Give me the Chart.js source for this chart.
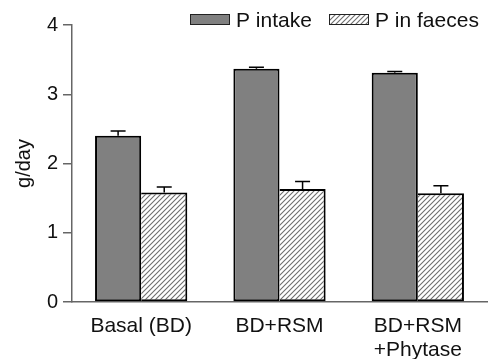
<!DOCTYPE html>
<html lang="en">
<head>
    <meta charset="UTF-8">
    <title>P intake and P in faeces</title>
    <script src="https://cdn.jsdelivr.net/npm/chart.js@4/dist/chart.umd.min.js"></script>
    <style>
        body { margin: 0; background: #fff; }
        #wrap { width: 489px; height: 359px; }
    </style>
</head>
<body>
    <div id="wrap"><canvas id="pChart"></canvas></div>
    <script>
        // diets
        const categories = ['Basal (BD)', 'BD+RSM', ['BD+RSM', '+Phytase']];
        // g/day, mean and SE
        const pIntake = [2.40, 3.37, 3.31];
        const pIntakeErr = [0.07, 0.02, 0.02];
        const pFaeces = [1.58, 1.63, 1.57];
        const pFaecesErr = [0.08, 0.11, 0.11];
        const yTicks = [0, 1, 2, 3, 4];

        const FONT = '"Liberation Sans", Arial, Helvetica, sans-serif';

        // diagonal hatch for the faeces bars
        function hatch() {
            const c = document.createElement('canvas');
            c.width = 5; c.height = 5;
            const g = c.getContext('2d');
            g.fillStyle = '#fff';
            g.fillRect(0, 0, 5, 5);
            g.strokeStyle = '#6e6e6e';
            g.lineWidth = 1.1;
            g.beginPath();
            g.moveTo(-1, 6); g.lineTo(6, -1);
            g.moveTo(-1, 1); g.lineTo(1, -1);
            g.moveTo(4, 6); g.lineTo(6, 4);
            g.stroke();
            return g.createPattern(c, 'repeat');
        }
        const hatchFill = hatch();

        const errors = [pIntakeErr, pFaecesErr];

        const errorBars = {
            id: 'errorBars',
            afterDatasetsDraw(chart) {
                const ctx = chart.ctx;
                const y = chart.scales.y;
                ctx.save();
                ctx.strokeStyle = '#000';
                ctx.lineWidth = 1.5;
                chart.data.datasets.forEach((ds, i) => {
                    chart.getDatasetMeta(i).data.forEach((bar, j) => {
                        const top = y.getPixelForValue(ds.data[j] + errors[i][j]);
                        ctx.beginPath();
                        ctx.moveTo(bar.x, bar.y);
                        ctx.lineTo(bar.x, top);
                        ctx.moveTo(bar.x - 7.5, top);
                        ctx.lineTo(bar.x + 7.5, top);
                        ctx.stroke();
                    });
                });
                ctx.restore();
            }
        };

        // legend row at the top right
        const legendRow = {
            id: 'legendRow',
            afterDraw(chart) {
                const ctx = chart.ctx;
                const items = [[190, 236], [329, 375]];
                ctx.save();
                ctx.font = '21px ' + FONT;
                ctx.textBaseline = 'middle';
                chart.data.datasets.forEach((ds, i) => {
                    const [bx, tx] = items[i];
                    ctx.fillStyle = ds.backgroundColor;
                    ctx.fillRect(bx, 14, 40, 11);
                    ctx.strokeStyle = '#222';
                    ctx.lineWidth = 1;
                    ctx.strokeRect(bx + 0.5, 14.5, 39, 10);
                    ctx.fillStyle = '#111';
                    ctx.fillText(ds.label, tx, 21);
                });
                ctx.restore();
            }
        };

        new Chart(document.getElementById('pChart'), {
            type: 'bar',
            data: {
                labels: categories,
                datasets: [{
                    label: 'P intake',
                    data: pIntake,
                    backgroundColor: '#808080',
                    borderColor: '#000',
                    borderWidth: 2,
                    borderSkipped: false
                }, {
                    label: 'P in faeces',
                    data: pFaeces,
                    backgroundColor: hatchFill,
                    borderColor: '#000',
                    borderWidth: { top: 2, right: 2, bottom: 2, left: 0 },
                    borderSkipped: false
                }]
            },
            options: {
                responsive: true,
                maintainAspectRatio: false,
                animation: false,
                categoryPercentage: 0.667,
                barPercentage: 1.0,
                layout: { padding: { top: 25, right: 2, left: 0, bottom: 0 } },
                plugins: {
                    legend: { display: false },
                    tooltip: { enabled: false }
                },
                scales: {
                    x: {
                        grid: { display: false },
                        border: { display: true, color: '#666', width: 1.5 },
                        ticks: { color: '#111', font: { family: FONT, size: 21, lineHeight: 1.15 }, padding: 4 },
                        afterFit(s) { s.height = 57; }
                    },
                    y: {
                        min: 0,
                        max: 4,
                        afterBuildTicks(s) { s.ticks = yTicks.map(v => ({ value: v })); },
                        grid: { drawOnChartArea: false, tickLength: 9, color: '#666', lineWidth: 1.5 },
                        border: { display: true, color: '#666', width: 1.5 },
                        ticks: { color: '#111', font: { family: FONT, size: 20 }, padding: 5 },
                        title: { display: true, text: 'g/day', color: '#111', font: { family: FONT, size: 20 }, padding: { top: 12, bottom: 0 } },
                        afterFit(s) { s.width = 72; }
                    }
                }
            },
            plugins: [errorBars, legendRow]
        });
    </script>
</body>
</html>
